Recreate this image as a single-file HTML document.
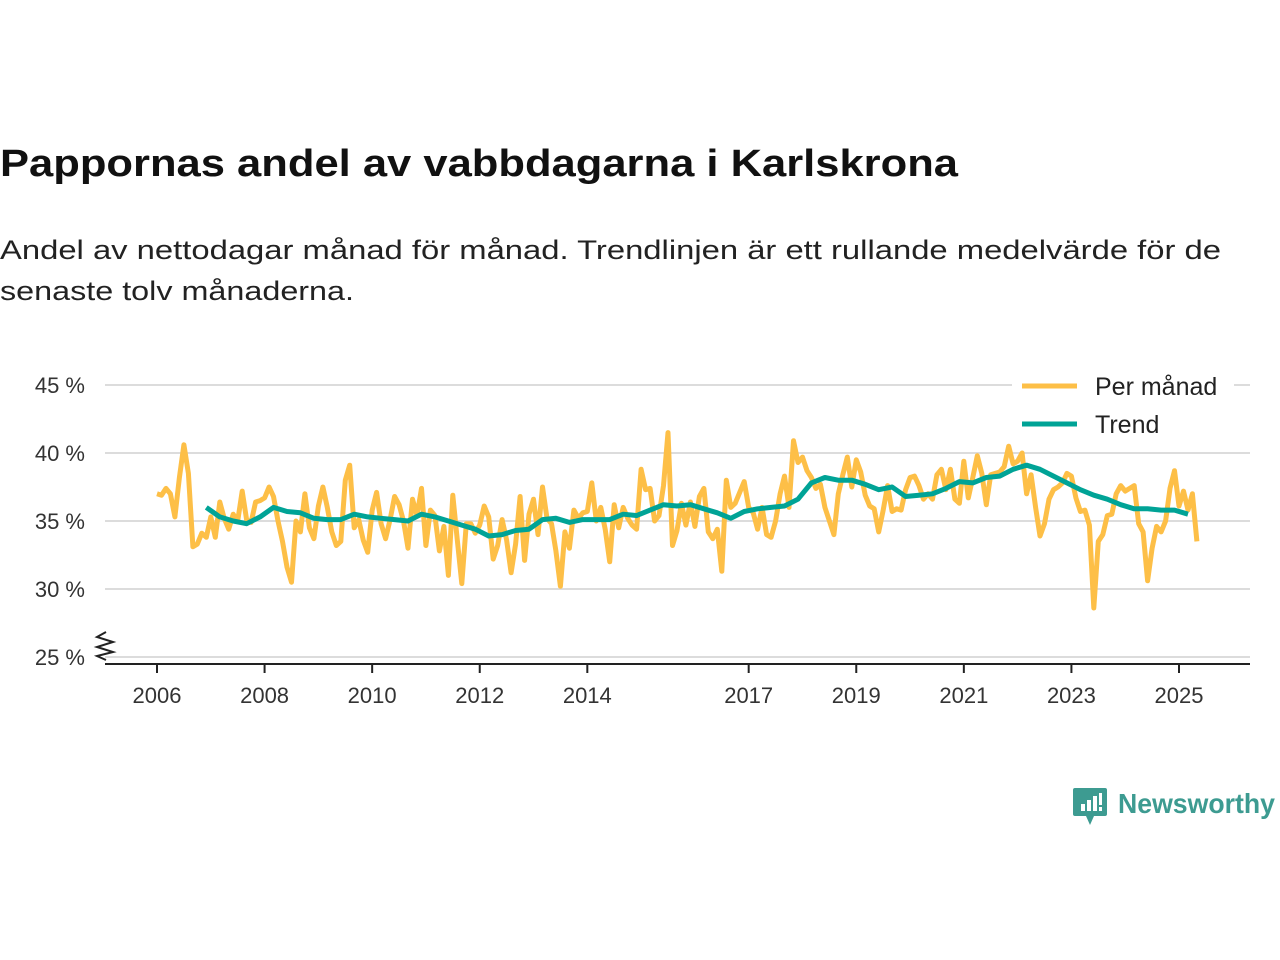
<!DOCTYPE html>
<html><head><meta charset="utf-8"><style>
html,body{margin:0;padding:0;background:#fff;}
svg{display:block;font-family:"Liberation Sans","DejaVu Sans",sans-serif;}
</style></head><body>
<svg id="chart" width="1280" height="960" viewBox="0 0 1280 960">
<text x="0" y="176" font-size="38" font-weight="bold" fill="#111" textLength="958" lengthAdjust="spacingAndGlyphs">Pappornas andel av vabbdagarna i Karlskrona</text>
<text x="0" y="259" font-size="27" fill="#222" textLength="1221" lengthAdjust="spacingAndGlyphs">Andel av nettodagar månad för månad. Trendlinjen är ett rullande medelvärde för de</text>
<text x="0" y="300" font-size="27" fill="#222" textLength="354" lengthAdjust="spacingAndGlyphs">senaste tolv månaderna.</text>
<g id="grid"></g>
<g id="yaxis"></g>
<g id="xaxis"></g>
<g id="series"></g>
<g>
<rect x="1012" y="368" width="222" height="76" fill="#fff"/>
<line x1="1022" y1="386" x2="1077" y2="386" stroke="#FDBF47" stroke-width="5"/>
<text x="1095" y="395" font-size="25" fill="#222">Per månad</text>
<line x1="1022" y1="424" x2="1077" y2="424" stroke="#00A396" stroke-width="5"/>
<text x="1095" y="433" font-size="25" fill="#222">Trend</text>
</g>
<g>
<path d="M1075 788 h30 a2 2 0 0 1 2 2 v24 a2 2 0 0 1 -2 2 h-11 l-4 9 l-4 -9 h-11 a2 2 0 0 1 -2 -2 v-24 a2 2 0 0 1 2 -2z" fill="#3D9B91"/>
<rect x="1081" y="804" width="4" height="7" fill="#fff"/><rect x="1087" y="800" width="4" height="11" fill="#fff"/><rect x="1093" y="796" width="4" height="15" fill="#fff"/><rect x="1099" y="793" width="3" height="12" fill="#fff"/><rect x="1099" y="807" width="3" height="4" fill="#fff"/>
<text x="1118" y="813" font-size="28" font-weight="bold" fill="#3D9B91" textLength="157" lengthAdjust="spacingAndGlyphs">Newsworthy</text>
</g>
</svg>
<script>
const yTicks = [25, 30, 35, 40, 45];
const yTickLabels = ["25 %", "30 %", "35 %", "40 %", "45 %"];
const xTickYears = [2006, 2008, 2010, 2012, 2014, 2017, 2019, 2021, 2023, 2025];
const xTickLabels = ["2006", "2008", "2010", "2012", "2014", "2017", "2019", "2021", "2023", "2025"];
const startYear = 2006;
const monthly = [
37.0,36.9,37.4,37.0,35.3,38.2,40.6,38.5,33.1,33.3,34.1,33.8,
35.3,33.8,36.4,35.2,34.4,35.5,35.0,37.2,35.1,34.9,36.4,36.5,
36.7,37.5,36.8,35.0,33.5,31.6,30.5,35.0,34.2,37.0,34.5,33.7,
36.1,37.5,36.0,34.2,33.2,33.5,38.0,39.1,34.5,35.1,33.6,32.7,
35.8,37.1,34.8,33.7,35.1,36.8,36.2,35.0,33.0,36.6,35.4,37.4,
33.2,35.8,35.4,32.8,34.6,31.0,36.9,33.6,30.4,34.8,34.8,34.1,
34.7,36.1,35.3,32.2,33.2,35.1,33.6,31.2,33.3,36.8,32.1,35.5,
36.6,34.0,37.5,35.2,34.8,32.8,30.2,34.2,33.0,35.8,35.2,35.6,
35.7,37.8,35.0,36.0,34.4,32.0,36.2,34.5,36.0,35.2,34.7,34.4,
38.8,37.3,37.4,35.0,35.4,37.6,41.5,33.2,34.3,36.3,34.7,36.4,
34.6,36.8,37.4,34.2,33.7,34.4,31.3,38.0,36.0,36.3,37.1,37.9,
36.0,35.6,34.4,36.0,34.0,33.8,35.0,37.0,38.3,36.0,40.9,39.3,
39.7,38.7,38.2,37.4,37.7,36.0,35.0,34.0,37.0,38.4,39.7,37.5,
39.5,38.6,36.9,36.1,35.9,34.2,35.8,37.6,35.7,35.9,35.8,37.3,
38.2,38.3,37.6,36.6,37.0,36.6,38.4,38.8,37.3,38.8,36.6,36.3,
39.4,36.7,38.2,39.8,38.5,36.2,38.4,38.5,38.6,39.0,40.5,39.2,
39.4,40.0,37.0,38.4,36.0,33.9,34.8,36.6,37.3,37.5,37.8,38.5,
38.3,36.7,35.7,35.8,34.7,28.6,33.5,34.0,35.4,35.5,37.0,37.6,
37.2,37.4,37.6,34.8,34.2,30.6,33.0,34.6,34.2,35.0,37.4,38.7,
36.1,37.2,35.8,37.0,33.5];
const trendStartMonth = 11;
const trendStepMonths = 3;
const trend = [36.0,35.3,35.0,34.8,35.3,36.0,35.7,35.6,35.2,35.1,35.1,35.5,35.3,35.2,35.1,35.0,35.5,35.3,35.0,34.7,34.4,33.9,34.0,34.3,34.4,35.1,35.2,34.9,35.1,35.1,35.1,35.5,35.4,35.8,36.2,36.1,36.2,35.9,35.6,35.2,35.7,35.9,36.0,36.1,36.6,37.8,38.2,38.0,38.0,37.7,37.3,37.5,36.8,36.9,37.0,37.4,37.9,37.8,38.2,38.3,38.8,39.1,38.8,38.3,37.8,37.3,36.9,36.6,36.2,35.9,35.9,35.8,35.8,35.5];

const NS = "http://www.w3.org/2000/svg";
const X0 = 105, X1 = 1250;
function xScale(yearFrac){ return 157 + (yearFrac - 2006) * (1179 - 157) / 19; }
function yScale(v){ return 657 - (v - 25) * (657 - 385) / 20; }
function mk(tag, attrs, parent){ const e = document.createElementNS(NS, tag); for (const k in attrs) e.setAttribute(k, attrs[k]); parent.appendChild(e); return e; }

const grid = document.getElementById('grid');
const yaxis = document.getElementById('yaxis');
yTicks.forEach((t, i) => {
  const l = mk('line', {x1: X0, x2: X1, y1: yScale(t), y2: yScale(t), stroke: '#dcdcdc', 'stroke-width': 2}, grid);
  
  
  const tx = mk('text', {x: 85, y: yScale(t) + 8, 'text-anchor': 'end', 'font-size': 22, fill: '#333'}, yaxis);
  tx.textContent = yTickLabels[i];
  
  
});
const zz = mk('polyline', {points: "106,632 97,637 113,642 97,647 113,652 97,656 106,660", fill: 'none', stroke: '#222', 'stroke-width': 2}, yaxis);



const xaxis = document.getElementById('xaxis');
const base = mk('line', {x1: X0, x2: X1, y1: 664, y2: 664, stroke: '#222', 'stroke-width': 2}, xaxis);


xTickYears.forEach((yr, i) => {
  const x = xScale(yr);
  const tk = mk('line', {x1: x, x2: x, y1: 664, y2: 673, stroke: '#222', 'stroke-width': 2}, xaxis);
  
  
  const tx = mk('text', {x: x, y: 703, 'text-anchor': 'middle', 'font-size': 22, fill: '#333'}, xaxis);
  tx.textContent = xTickLabels[i];
  
  
});

const series = document.getElementById('series');
const mPts = monthly.map((v, i) => xScale(startYear + i / 12).toFixed(1) + ',' + yScale(v).toFixed(1)).join(' ');
const ml = mk('polyline', {points: mPts, fill: 'none', stroke: '#FDBF47', 'stroke-width': 5, 'stroke-linejoin': 'round'}, series);


const tPts = trend.map((v, i) => xScale(startYear + (trendStartMonth + i * trendStepMonths) / 12).toFixed(1) + ',' + yScale(v).toFixed(1)).join(' ');
const tl = mk('polyline', {points: tPts, fill: 'none', stroke: '#00A396', 'stroke-width': 5, 'stroke-linejoin': 'round'}, series);


</script>
</body></html>
